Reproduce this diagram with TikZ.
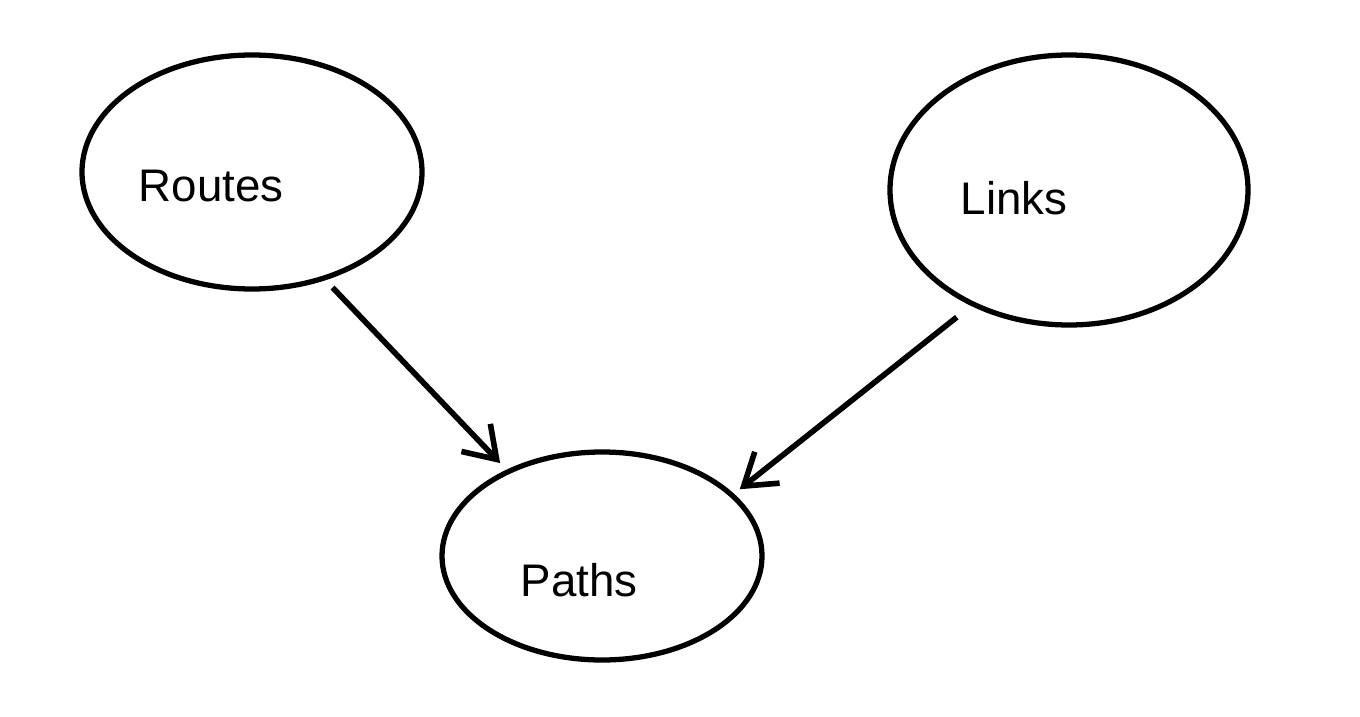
\documentclass[tikz,border=0pt]{standalone}
\usepackage{fontspec}
\setmainfont{Liberation Sans}
\usetikzlibrary{shapes.geometric, arrows.meta}

\begin{document}
\begin{tikzpicture}[
        blob/.style={
            ellipse, draw, line width=1.5pt,
            inner sep=0pt, outer sep=0pt
        },
        word/.style={
            anchor=west, inner sep=0pt,
            font=\fontsize{13}{15}\selectfont
        },
        link/.style={-{Straight Barb[length=3mm, width=4mm]}, line width=1.6pt}
    ]
        \useasboundingbox (0, 0) rectangle (13.6, -7.16);

        \node[blob, minimum width=3.40cm, minimum height=2.34cm] (ro) at (2.52, -1.72) {};
        \node[word] (rot) at (1.38, -1.86) {Routes};

        \node[blob, minimum width=3.58cm, minimum height=2.70cm] (li) at (10.69, -1.90) {};
        \node[word] (lit) at (9.60, -1.98) {Links};

        \node[blob, minimum width=3.20cm, minimum height=2.08cm] (pa) at (6.02, -5.56) {};
        \node[word] (pat) at (5.20, -5.80) {Paths};

        \draw[link, shorten <=3.7pt, shorten >=3.4pt] (ro.-56) -- (pa.138);
        \draw[link, shorten <=6pt, shorten >=2.8pt] (li.-130) -- (pa.25);
    \end{tikzpicture}
\end{document}
